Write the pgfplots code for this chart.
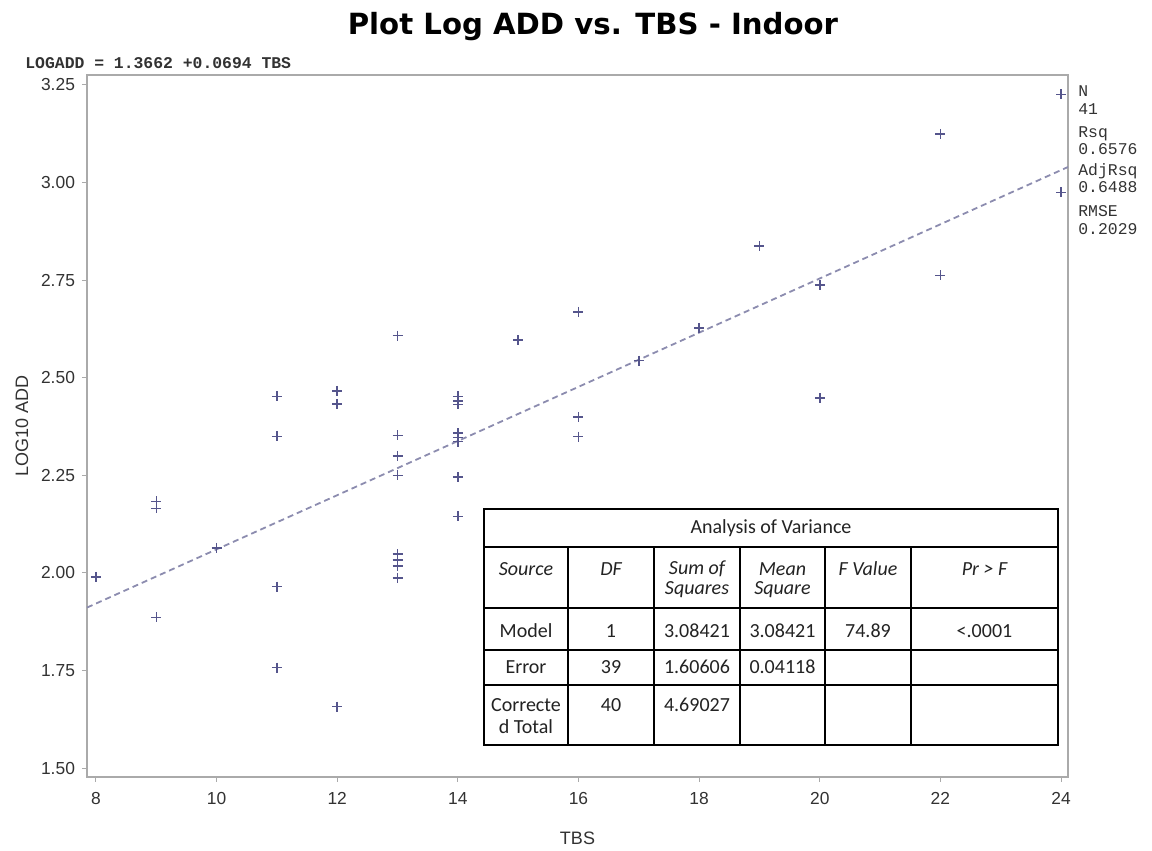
\documentclass[border=0pt]{standalone}
\usepackage{fontspec}
\setmainfont{Liberation Sans}
\newfontfamily\titlefont{DejaVu Sans}
\newfontfamily\courierfont{Liberation Mono}
\newfontfamily\tablefont{Carlito}
\usepackage{pgfplots}
\pgfplotsset{compat=1.18}

\definecolor{markcol}{RGB}{85,85,140}
\definecolor{fitcol}{RGB}{140,140,175}
\definecolor{framecol}{RGB}{170,170,170}
\definecolor{labcol}{RGB}{50,50,50}

\begin{document}
\begin{tikzpicture}
\useasboundingbox (-43.5pt,-37pt) rectangle (532.5pt,388.5pt);
\begin{axis}[
  at={(0,0)}, anchor=south west,
  scale only axis, width=490.5pt, height=351pt,
  xmin=7.851, xmax=24.116, ymin=1.477, ymax=3.2756,
  xtick={8,10,...,24},
  ytick={1.5,1.75,2,2.25,2.5,2.75,3,3.25},
  yticklabel style={/pgf/number format/.cd, fixed, fixed zerofill, precision=2},
  xtick pos=bottom, ytick pos=left,
  tick align=outside, major tick length=2.5pt,
  tick style={framecol, line width=0.5pt},
  axis line style={framecol, line width=0.7pt},
  tick label style={font=\fontsize{8.7}{10}\selectfont, text=labcol},
  /pgf/number format/assume math mode=true,
  xlabel={TBS}, ylabel={LOG10 ADD},
  label style={font=\fontsize{9}{11}\selectfont, text=labcol},
  xticklabel style={yshift=-1.5pt},
  xlabel style={at={(axis description cs:0.5,-0.0869)}, anchor=center},
  ylabel style={at={(axis description cs:-0.0663,0.5)}, anchor=center},
  clip=true,
]
% fitted line LOGADD = 1.3662 + 0.0694 TBS across the x range
\addplot[fitcol, line width=0.9pt, dash pattern=on 3pt off 2pt]
  coordinates {(7.851,1.9111) (24.116,3.0399)};
% observations
\addplot[only marks, mark=+, mark size=2.5pt, color=markcol,
  mark options={line width=0.75pt}] coordinates {
  (8,1.990)
  (9,2.183) (9,2.165) (9,1.886)
  (10,2.064)
  (11,2.452) (11,2.350) (11,1.965) (11,1.757)
  (12,2.466) (12,2.433) (12,1.657)
  (13,2.608) (13,2.352) (13,2.300) (13,2.250) (13,2.048) (13,2.033) (13,2.017) (13,1.987)
  (14,2.452) (14,2.440) (14,2.432) (14,2.358) (14,2.347) (14,2.336) (14,2.245) (14,2.145)
  (15,2.596)
  (16,2.669) (16,2.399) (16,2.349)
  (17,2.544)
  (18,2.628)
  (19,2.837)
  (20,2.737) (20,2.448)
  (22,3.125) (22,2.762)
  (24,3.226) (24,2.975)
};
\end{axis}

% title
\node[anchor=base, font=\titlefont\bfseries\fontsize{14.6}{17}\selectfont]
  at (253pt,371pt) {Plot Log ADD vs. TBS - Indoor};

% model equation
\node[anchor=base west, inner sep=0pt, font=\courierfont\bfseries\fontsize{8.2}{10}\selectfont, text=labcol]
  at (-31pt,354pt) {LOGADD = 1.3662 +0.0694 TBS};

% fit statistics
\begin{scope}[every node/.style={anchor=base west, inner sep=0pt,
  font=\courierfont\fontsize{8.2}{10}\selectfont, text=labcol}]
  \node at (495.5pt,340pt) {N};
  \node at (495.5pt,331pt) {41};
  \node at (495.5pt,319.5pt) {Rsq};
  \node at (495.5pt,311pt) {0.6576};
  \node at (495.5pt,300.5pt) {AdjRsq};
  \node at (495.5pt,292pt) {0.6488};
  \node at (495.5pt,280pt) {RMSE};
  \node at (495.5pt,271pt) {0.2029};
\end{scope}

% analysis of variance table
\fill[white] (198.5pt,16pt) rectangle (485.5pt,134pt);
\begin{scope}[line width=0.9pt, black]
  \draw (198.5pt,115pt) -- (485.5pt,115pt);
  \draw (198.5pt,84.5pt) -- (485.5pt,84.5pt);
  \draw (198.5pt,63.5pt) -- (485.5pt,63.5pt);
  \draw (198.5pt,46pt) -- (485.5pt,46pt);
  \foreach \cx in {240.5,283.5,326.5,369,412}
    \draw (\cx pt,16pt) -- (\cx pt,115pt);
  \draw[line width=1.2pt] (198.5pt,16pt) rectangle (485.5pt,134pt);
\end{scope}
\begin{scope}[every node/.style={anchor=center, inner sep=0pt,
  font=\tablefont\fontsize{10}{12}\selectfont, text={rgb,255:red,35;green,35;blue,35}}]
  \node at (342pt,124.5pt) {Analysis of Variance};
  \node[font=\tablefont\itshape\fontsize{10}{12}\selectfont] at (219.5pt,104pt) {Source};
  \node[font=\tablefont\itshape\fontsize{10}{12}\selectfont] at (262pt,104pt) {DF};
  \node[font=\tablefont\itshape\fontsize{10}{12}\selectfont] at (305pt,104pt) {Sum of};
  \node[font=\tablefont\itshape\fontsize{10}{12}\selectfont] at (305pt,93.5pt) {Squares};
  \node[font=\tablefont\itshape\fontsize{10}{12}\selectfont] at (347.75pt,104pt) {Mean};
  \node[font=\tablefont\itshape\fontsize{10}{12}\selectfont] at (347.75pt,93.5pt) {Square};
  \node[font=\tablefont\itshape\fontsize{10}{12}\selectfont] at (390.5pt,104pt) {F Value};
  \node[font=\tablefont\itshape\fontsize{10}{12}\selectfont] at (448.75pt,104pt) {Pr > F};
  \node at (219.5pt,73pt) {Model};
  \node at (262pt,73pt) {1};
  \node at (305pt,73pt) {3.08421};
  \node at (347.75pt,73pt) {3.08421};
  \node at (390.5pt,73pt) {74.89};
  \node at (448.75pt,73pt) {<.0001};
  \node at (219.5pt,55pt) {Error};
  \node at (262pt,55pt) {39};
  \node at (305pt,55pt) {1.60606};
  \node at (347.75pt,55pt) {0.04118};
  \node at (219.5pt,36pt) {Correcte};
  \node at (219.5pt,25pt) {d Total};
  \node at (262pt,36pt) {40};
  \node at (305pt,36pt) {4.69027};
\end{scope}
\end{tikzpicture}
\end{document}
